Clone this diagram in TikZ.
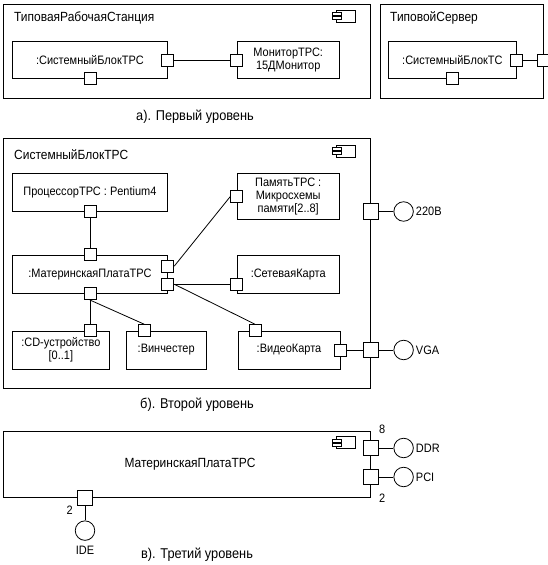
\documentclass[tikz,border=0pt]{standalone}
\usepackage{fontspec}
\setmainfont[FakeStretch=0.9]{Liberation Sans}
\usetikzlibrary{fit,positioning}

\begin{document}
\begin{tikzpicture}[x=1pt,y=1pt]
		\tikzstyle{frame}=[rectangle, draw=black, line width=0.8pt, anchor=north west, inner sep=0pt]
		\tikzstyle{comp}=[rectangle, draw=black, line width=0.8pt, inner sep=0pt, align=center, font=\fontsize{12.2}{13}\selectfont]
		\tikzstyle{title}=[anchor=west, inner sep=0pt, font=\fontsize{13.3}{15}\selectfont]
		\tikzstyle{port}=[rectangle, draw=black, fill=white, line width=0.8pt, minimum size=12pt, inner sep=0pt]
		\tikzstyle{outport}=[port, minimum size=15.5pt]
		\tikzstyle{iface}=[circle, draw=black, fill=white, line width=0.8pt, minimum size=19.5pt, inner sep=0pt]
		\tikzstyle{iname}=[inner sep=0pt, font=\fontsize{12.2}{13}\selectfont]
		\tikzstyle{connect}=[line width=0.8pt]
		\tikzstyle{caption}=[inner sep=0pt, font=\fontsize{14.2}{16}\selectfont]
		\useasboundingbox (0,0) rectangle (548,-565);
		% a) first level
		\node[frame, minimum width=367pt, minimum height=94pt] (trs) at (3,-4) {};
		\node[title] (trsT) at (14,-18) {ТиповаяРабочаяСтанция};
		\node[comp, minimum width=155pt, minimum height=37pt] (sbtrs) [below right=37pt and 9pt of trs.north west] {:СистемныйБлокТРС};
		\node[comp, minimum width=102pt, minimum height=37pt] (mon) [right=69pt of sbtrs] {МониторТРС:\\15ДМонитор};
		\node[frame, minimum width=163pt, minimum height=94pt] (srv) at (380,-4) {};
		\node[title] (srvT) at (390,-18) {ТиповойСервер};
		\node[comp, minimum width=128pt, minimum height=37pt] (sbts) [below right=37pt and 8pt of srv.north west] {:СистемныйБлокТС};
		\path (sbtrs.east) edge [connect] (mon.west)
		(sbts.east) edge [connect] (srv.east |- sbts.east);
		\node[port] (sbtrsR) at (sbtrs.east) {};
		\node[port] (sbtrsB) at (sbtrs.south) {};
		\node[port] (monP) at (mon.west) {};
		\node[port] (sbtsR) at (sbts.east) {};
		\node[port] (sbtsB) at (sbts.south) {};
		\node[port] (srvP) at (srv.east |- sbts.east) {};
		\node[caption] (capA) at (195,-117) {а). Первый уровень};
		% b) second level
		\node[frame, minimum width=367pt, minimum height=250pt] (sb) at (3,-138) {};
		\node[title] (sbT) at (14,-155) {СистемныйБлокТРС};
		\node[comp, minimum width=155pt, minimum height=38pt] (cpu) [below right=35pt and 9pt of sb.north west] {ПроцессорТРС : Pentium4};
		\node[comp, minimum width=155pt, minimum height=38pt] (mb) [below=43pt of cpu] {:МатеринскаяПлатаТРС};
		\node[comp, minimum width=102pt, minimum height=46pt] (mem) [below right=0pt and 69pt of cpu.north east] {ПамятьТРС :\\Микросхемы\\памяти[2..8]};
		\node[comp, minimum width=102pt, minimum height=38pt] (net) [right=69pt of mb] {:СетеваяКарта};
		\node[comp, minimum width=97pt, minimum height=38pt] (cd) [below right=37pt and 0pt of mb.south west] {:CD-устройство\\{[0..1]}};
		\node[comp, minimum width=80pt, minimum height=38pt] (hdd) [right=16pt of cd] {:Винчестер};
		\node[comp, minimum width=102pt, minimum height=38pt] (vid) [right=31pt of hdd] {:ВидеоКарта};
		\node[port] (cpuP) at (cpu.south) {};
		\node[port] (mbT) at (mb.north) {};
		\node[port] (mbR1) at ([yshift=8pt]mb.east) {};
		\node[port] (mbR2) at ([yshift=-10pt]mb.east) {};
		\node[port] (mbB) at (mb.south) {};
		\node[port] (memP) at (mem.west) {};
		\node[port] (netP) at (net.west |- mbR2) {};
		\node[port] (cdP) at (mbB |- cd.north) {};
		\node[port] (hdP) at ([xshift=-22pt]hdd.north) {};
		\node[port] (vidT) at ([xshift=-34pt]vid.north) {};
		\node[port] (vidR) at (vid.east) {};
		\node[outport] (pwrP) at ([yshift=-73.5pt]sb.north east) {};
		\node[outport] (vgaP) at (sb.east |- vidR) {};
		\node[iface] (pwrC) [right=14.5pt of pwrP] {};
		\node[iface] (vgaC) [right=14.5pt of vgaP] {};
		\node[iname, anchor=west] (pwrL) [right=2pt of pwrC] {220В};
		\node[iname, anchor=west] (vgaL) [right=2pt of vgaC] {VGA};
		\path (cpuP) edge [connect] (mbT)
		(mbR1.east) edge [connect] (memP.west)
		(mbR2) edge [connect] (netP)
		(mbR2.east) edge [connect] (vidT.north)
		(mbB) edge [connect] (cdP)
		(mbB.south) edge [connect] (hdP.north)
		(vidR) edge [connect] (vgaP)
		(vgaP) edge [connect] (vgaC)
		(pwrP) edge [connect] (pwrC);
		\node[caption] (capB) at (197,-405) {б). Второй уровень};
		% c) third level
		\node[frame, minimum width=367pt, minimum height=66pt] (mbt) at (3,-431) {};
		\node[title, anchor=center] (mbtT) at (190,-464) {МатеринскаяПлатаТРС};
		\node[outport] (ddrP) at ([yshift=-17pt]mbt.north east) {};
		\node[outport] (pciP) at ([yshift=-46pt]mbt.north east) {};
		\node[outport] (ideP) at ([xshift=82pt]mbt.south west) {};
		\node[iface] (ddrC) [right=14.5pt of ddrP] {};
		\node[iface] (pciC) [right=14.5pt of pciP] {};
		\node[iface] (ideC) [below=14.5pt of ideP] {};
		\node[iname, anchor=west] (ddrL) [right=2pt of ddrC] {DDR};
		\node[iname, anchor=west] (pciL) [right=2pt of pciC] {PCI};
		\node[iname] (ideL) [below=5pt of ideC] {IDE};
		\node[iname] (ddrN) [above right=6pt and 0pt of ddrP] {8};
		\node[iname] (pciN) [below right=9pt and 0pt of pciP] {2};
		\node[iname] (ideN) [below left=0pt and 4pt of ideP] {2};
		\path (ddrP) edge [connect] (ddrC)
		(pciP) edge [connect] (pciC)
		(ideP) edge [connect] (ideC);
		\node[caption] (capC) at (197,-555) {в). Третий уровень};
		% component icons
		\foreach \y in {16,151,442.5} {
			\draw[line width=0.8pt] (336,{6-\y}) rectangle (355,{-6-\y});
			\draw[line width=0.8pt, fill=white] (332,{3.5-\y}) rectangle (341,{0.5-\y});
			\draw[line width=0.8pt, fill=white] (332,{-0.5-\y}) rectangle (341,{-3.5-\y});
		}
\end{tikzpicture}
\end{document}
